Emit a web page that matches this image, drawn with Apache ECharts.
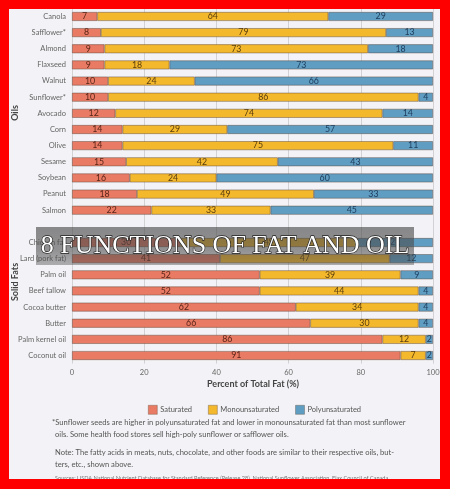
<!DOCTYPE html>
<html><head><meta charset="utf-8">
<script src="https://cdn.jsdelivr.net/npm/echarts@6/dist/echarts.min.js"></script>
<style>html,body{margin:0;padding:0;background:#f3f2f6;}#c{width:450px;height:489px;}</style>
</head><body><div id="c"></div>
<script>
// ---- data ----
var oilCats = ['Canola','Safflower*','Almond','Flaxseed','Walnut','Sunflower*','Avocado','Corn','Olive','Sesame','Soybean','Peanut','Salmon'];
var oilSat  = [7, 8, 9, 9, 10, 10, 12, 14, 14, 15, 16, 18, 22];
var oilMono = [64, 79, 73, 18, 24, 86, 74, 29, 75, 42, 24, 49, 33];
var oilPoly = [29, 13, 18, 73, 66, 4, 14, 57, 11, 43, 60, 33, 45];
var fatCats = ['Chicken fat','Lard (pork fat)','Palm oil','Beef tallow','Cocoa butter','Butter','Palm kernel oil','Coconut oil'];
var fatSat  = [30, 41, 52, 52, 62, 66, 86, 91];
var fatMono = [49, 47, 39, 44, 34, 30, 12, 7];
var fatPoly = [21, 12, 9, 4, 4, 4, 2, 2];
var seriesNames = ['Saturated','Monounsaturated','Polyunsaturated'];
var xTicks = [0, 20, 40, 60, 80, 100];
var groupNames = ['Oils','Solid Fats'];
var axisTitle = 'Percent of Total Fat (%)';
var overlayTitle = '8 FUNCTIONS OF FAT AND OIL';
var notes = [
  '*Sunflower seeds are higher in polyunsaturated fat and lower in monounsaturated fat than most sunflower',
  'oils. Some health food stores sell high-poly sunflower or safflower oils.',
  'Note: The fatty acids in meats, nuts, chocolate, and other foods are similar to their respective oils, but-',
  'ters, etc., shown above.',
  'Sources: USDA National Nutrient Database for Standard Reference (Release 28), National Sunflower Association, Flax Council of Canada'
];

// ---- build ----
var cats = oilCats.concat(['']).concat(fatCats);
function join(a, b){ return a.concat(['-']).concat(b); }
var vals = [join(oilSat, fatSat), join(oilMono, fatMono), join(oilPoly, fatPoly)];
var colors = ['#e97a63', '#f4b82d', '#5f9dc2'];
var labelColors = ['#5a2518', '#5a3d0c', '#1d3c5a'];

var series = seriesNames.map(function(n, i){
  return {
    name: n, type: 'bar', stack: 'fat', barWidth: 9,
    data: vals[i],
    itemStyle: { color: colors[i], borderColor: 'rgba(90,70,60,0.65)', borderWidth: 0.7 },
    label: { show: true, position: 'inside', fontSize: 8.8, color: labelColors[i], fontFamily: 'Lato',
      formatter: function(p){ return p.value === '-' ? '' : p.value; } }
  };
});

var chart = echarts.init(document.getElementById('c'), null, {renderer: 'canvas'});
var font = 'Lato';
var gfx = [];
// group labels
gfx.push({ type: 'text', x: 15, y: 113, rotation: Math.PI/2,
  style: { text: groupNames[0], font: 'bold 9px Lato', fill: '#444', align: 'center', verticalAlign: 'middle' } });
gfx.push({ type: 'text', x: 15, y: 282, rotation: Math.PI/2,
  style: { text: groupNames[1], font: 'bold 9px Lato', fill: '#444', align: 'center', verticalAlign: 'middle' } });
// axis title
gfx.push({ type: 'text', x: 253, y: 384,
  style: { text: axisTitle, font: 'bold 9px Lato', fill: '#444', align: 'center', verticalAlign: 'middle' } });
// notes
var noteY = [423, 435, 453, 465];
var noteX = [52, 55, 55, 55];
for (var k = 0; k < 4; k++) {
  gfx.push({ type: 'text', x: noteX[k], y: noteY[k],
    style: { text: notes[k], font: '7.6px Lato', fill: '#555', verticalAlign: 'middle' } });
}
gfx.push({ type: 'text', x: 55, y: 475,
  style: { text: notes[4], font: '5.6px Lato', fill: '#777', verticalAlign: 'top' } });
// overlay banner
gfx.push({ type: 'rect', shape: { x: 36, y: 227, width: 378, height: 38 }, z: 50,
  style: { fill: { type: 'linear', x: 0, y: 0, x2: 0, y2: 1,
    colorStops: [{offset: 0, color: 'rgba(75,75,75,0.64)'}, {offset: 0.6, color: 'rgba(75,75,75,0.58)'}, {offset: 1, color: 'rgba(75,75,75,0.42)'}] } } });
gfx.push({ type: 'text', x: 225, y: 246, z: 51,
  style: { text: overlayTitle, font: '26px "Liberation Serif", "DejaVu Serif", serif', fill: '#ffffff',
    stroke: '#222', lineWidth: 1.3, align: 'center', verticalAlign: 'middle',
    shadowColor: 'rgba(0,0,0,0.8)', shadowBlur: 2, shadowOffsetX: 1, shadowOffsetY: 1 } });
// red frame
var red = '#ff0000';
gfx.push({ type: 'rect', shape: { x: 0, y: 0, width: 450, height: 9 }, z: 100, style: { fill: red } });
gfx.push({ type: 'rect', shape: { x: 0, y: 479, width: 450, height: 10 }, z: 100, style: { fill: red } });
gfx.push({ type: 'rect', shape: { x: 0, y: 0, width: 9, height: 489 }, z: 100, style: { fill: red } });
gfx.push({ type: 'rect', shape: { x: 440, y: 0, width: 10, height: 489 }, z: 100, style: { fill: red } });

chart.setOption({
  backgroundColor: '#f3f2f6',
  animation: false,
  textStyle: { fontFamily: font },
  grid: { left: 72, right: 17, top: 8.4, height: 355.2, containLabel: false },
  legend: {
    data: seriesNames, left: 143, top: 400, itemWidth: 9, itemHeight: 9, itemGap: 16,
    icon: 'rect',
    textStyle: { fontSize: 7.5, color: '#555', fontFamily: font, padding: [0, 0, 0, -2] },
    itemStyle: { borderColor: 'rgba(90,70,60,0.6)', borderWidth: 0.6 }
  },
  xAxis: {
    type: 'value', min: xTicks[0], max: xTicks[xTicks.length - 1], interval: 20,
    axisLine: { show: false }, axisTick: { show: false },
    axisLabel: { fontSize: 7.5, color: '#666', margin: 5, fontFamily: font },
    splitLine: { show: true, lineStyle: { color: '#c9c8cc', width: 0.8 } }
  },
  yAxis: {
    type: 'category', data: cats, inverse: true,
    axisLine: { show: false }, axisTick: { show: false },
    axisLabel: { fontSize: 7.5, color: '#666', margin: 6, fontFamily: font, interval: 0 },
    splitLine: { show: false }
  },
  series: series,
  graphic: gfx
});
</script>
</body></html>
